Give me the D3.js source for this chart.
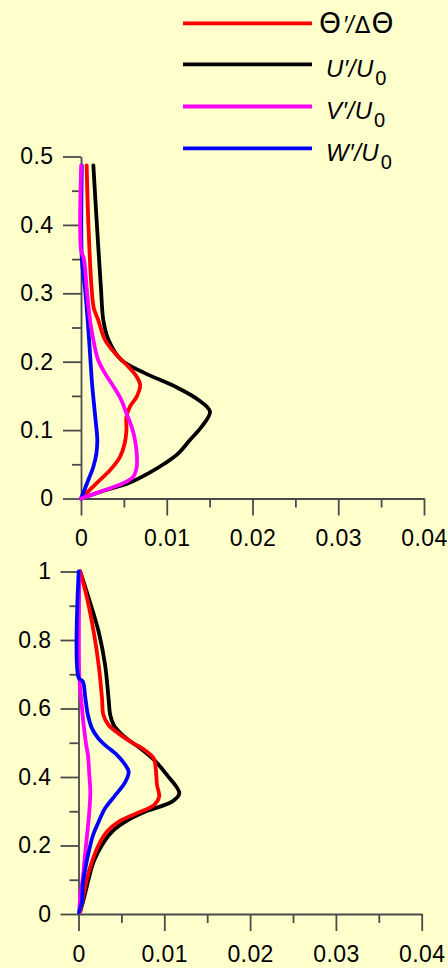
<!DOCTYPE html>
<html>
<head>
<meta charset="utf-8">
<script src="https://cdn.jsdelivr.net/npm/d3@7"></script>
<style>
  html, body { margin: 0; padding: 0; background: #ffffcc; }
  svg { display: block; }
  text { font-family: "Liberation Sans", Arial, sans-serif; }
</style>
</head>
<body>
<svg id="chart" width="448" height="968"></svg>
<script>
// Profiles: each point is [height, value]
const topTheta = [[0.487,0.00066],[0.405,0.00085],[0.307,0.00124],[0.278,0.0015],[0.261,0.0020],[0.232,0.0028],[0.212,0.0040],[0.193,0.0055],[0.178,0.0065],[0.166,0.0069],[0.149,0.0065],[0.134,0.0057],[0.1196,0.0053],[0.100,0.0053],[0.0807,0.0051],[0.061,0.00455],[0.0417,0.0034],[0.0222,0.0018],[0,0]];
const topU = [[0.487,0.00144],[0.405,0.00183],[0.307,0.00233],[0.261,0.0026],[0.232,0.0032],[0.2025,0.0047],[0.183,0.0075],[0.1635,0.011],[0.144,0.0137],[0.127,0.01504],[0.105,0.01407],[0.0855,0.0127],[0.066,0.01135],[0.0515,0.0098],[0.0368,0.00785],[0.0222,0.0055],[0.0124,0.0029],[0,0]];
const topV = [[0.487,0.00002],[0.362,0.00002],[0.352,0.0003],[0.340,0.00045],[0.307,0.00066],[0.261,0.00105],[0.232,0.00144],[0.2025,0.0020],[0.183,0.0028],[0.1635,0.0038],[0.144,0.0047],[0.1245,0.0053],[0.105,0.0059],[0.0855,0.0063],[0.066,0.0065],[0.0464,0.0065],[0.032,0.0061],[0.0222,0.0049],[0.0124,0.0028],[0,0]];
const topW = [[0.487,0.0001],[0.35,0.0001],[0.307,0.00047],[0.261,0.00078],[0.212,0.00105],[0.1635,0.00132],[0.1147,0.0017],[0.0855,0.0019],[0.066,0.0018],[0.0464,0.00144],[0.027,0.00085],[0.0124,0.0004],[0,0]];

const botTheta = [[1.0,0.0002],[0.922,0.0010],[0.824,0.00177],[0.727,0.00235],[0.63,0.00274],[0.581,0.0029],[0.552,0.0035],[0.523,0.0049],[0.498,0.0064],[0.484,0.0074],[0.4545,0.00876],[0.425,0.0090],[0.377,0.00915],[0.3425,0.0094],[0.318,0.0088],[0.294,0.0068],[0.2695,0.0047],[0.240,0.0033],[0.2015,0.00235],[0.153,0.00157],[0.104,0.0010],[0.055,0.0006],[0.007,0.0002]];
const botU = [[1.0,0.0002],[0.922,0.0012],[0.824,0.00235],[0.727,0.0031],[0.63,0.0035],[0.581,0.0037],[0.552,0.0041],[0.523,0.0051],[0.498,0.0064],[0.484,0.0072],[0.445,0.0090],[0.406,0.0103],[0.352,0.01175],[0.328,0.0109],[0.299,0.0078],[0.2695,0.00546],[0.240,0.0039],[0.2015,0.00274],[0.153,0.00177],[0.104,0.0012],[0.055,0.00072],[0.007,0.0002]];
const botV = [[1.0,0.0001],[0.69,0.0001],[0.63,0.0003],[0.552,0.0006],[0.498,0.00087],[0.464,0.0011],[0.406,0.00126],[0.357,0.00138],[0.299,0.00126],[0.2307,0.0010],[0.163,0.00072],[0.104,0.0005],[0.055,0.0002],[0.005,0.0001]];
const botW = [[1.0,0.00002],[0.69,0.00002],[0.679,0.0005],[0.63,0.0008],[0.581,0.0011],[0.542,0.00157],[0.513,0.0023],[0.493,0.0031],[0.464,0.0045],[0.435,0.00546],[0.4155,0.00585],[0.386,0.00546],[0.347,0.0043],[0.3086,0.0031],[0.2695,0.00235],[0.2307,0.0017],[0.182,0.0012],[0.133,0.0008],[0.0847,0.0005],[0.036,0.0004],[0.0175,0.0002],[0.005,0.00005]];

const xMajor = [0, 0.01, 0.02, 0.03, 0.04];
const xMinor = [0.005, 0.015, 0.025, 0.035];
const topYMajor = [0, 0.1, 0.2, 0.3, 0.4, 0.5];
const topYMinor = [0.05, 0.15, 0.25, 0.35, 0.45];
const botYMajor = [0, 0.2, 0.4, 0.6, 0.8, 1];
const botYMinor = [0.1, 0.3, 0.5, 0.7, 0.9];

const colors = { theta: "#ff0000", u: "#000000", v: "#ff00ff", w: "#0000ff" };
const axisColor = "#4a4a4a";
const tickFont = 23;

const svg = d3.select("#chart");
svg.append("rect").attr("width", 448).attr("height", 968).attr("fill", "#ffffcc");

function fmt(d) { return d === 0 ? "0" : String(d); }

function drawPanel(opts) {
  const x = d3.scaleLinear().domain([0, 0.04]).range(opts.xRange);
  const y = d3.scaleLinear().domain(opts.yDomain).range(opts.yRange);
  const g = svg.append("g");

  // minor ticks
  g.append("g").attr("transform", `translate(0,${y(0)})`)
    .call(d3.axisBottom(x).tickValues(xMinor).tickSize(9).tickFormat(""))
    .call(a => a.select(".domain").remove());
  g.append("g").attr("transform", `translate(${x(0)},0)`)
    .call(d3.axisLeft(y).tickValues(opts.yMinor).tickSize(9).tickFormat(""))
    .call(a => a.select(".domain").remove());
  // major ticks
  g.append("g").attr("transform", `translate(0,${y(0)})`)
    .call(d3.axisBottom(x).tickValues(xMajor).tickSize(17).tickSizeOuter(0).tickPadding(14.5).tickFormat(fmt));
  g.append("g").attr("transform", `translate(${x(0)},0)`)
    .call(d3.axisLeft(y).tickValues(opts.yMajor).tickSize(18).tickSizeOuter(0).tickPadding(opts.yPad).tickFormat(fmt));

  g.selectAll(".domain, .tick line").attr("stroke", axisColor).attr("stroke-width", 1.8);
  g.selectAll(".tick text").attr("fill", "#000").attr("font-size", tickFont)
    .attr("letter-spacing", 0.4)
    .attr("font-family", "'Liberation Sans', Arial, sans-serif");

  const line = d3.line()
    .x(d => x(d[1]))
    .y(d => y(d[0]))
    .curve(d3.curveCatmullRom.alpha(0.5));

  opts.series.forEach(s => {
    g.append("path").datum(s.data)
      .attr("fill", "none")
      .attr("stroke", s.color)
      .attr("stroke-width", 3.8)
      .attr("stroke-linejoin", "round")
      .attr("stroke-linecap", "round")
      .attr("d", line);
  });
}

drawPanel({
  xRange: [81, 424], yDomain: [0, 0.5], yRange: [498.5, 156.5],
  yMajor: topYMajor, yMinor: topYMinor, yPad: 9.5,
  series: [
    { data: topU, color: colors.u },
    { data: topTheta, color: colors.theta },
    { data: topW, color: colors.w },
    { data: topV, color: colors.v }
  ]
});

drawPanel({
  xRange: [78.5, 421.7], yDomain: [0, 1], yRange: [914, 571.5],
  yMajor: botYMajor, yMinor: botYMinor, yPad: 9,
  series: [
    { data: botU, color: colors.u },
    { data: botTheta, color: colors.theta },
    { data: botV, color: colors.v },
    { data: botW, color: colors.w }
  ]
});

// Legend
const legendItems = [
  { key: "theta", y: 23.3 },
  { key: "u", y: 64.3, letter: "U" },
  { key: "v", y: 106.5, letter: "V" },
  { key: "w", y: 148.3, letter: "W" }
];
const leg = svg.append("g");
legendItems.forEach(it => {
  leg.append("line")
    .attr("x1", 183).attr("x2", 312)
    .attr("y1", it.y).attr("y2", it.y)
    .attr("stroke", colors[it.key]).attr("stroke-width", 3.8);
  if (it.key === "theta") {
    const t = leg.append("text").attr("x", 319).attr("y", it.y + 9.5).attr("fill", "#000");
    t.append("tspan").attr("font-size", 28).attr("font-family", "'DejaVu Sans', sans-serif").text("Θ");
    t.append("tspan").attr("font-size", 23).attr("font-style", "italic").attr("dx", 2).text("′/");
    t.append("tspan").attr("font-size", 23).attr("font-family", "'DejaVu Sans', sans-serif").attr("dx", 1).text("Δ");
    t.append("tspan").attr("font-size", 28).attr("font-family", "'DejaVu Sans', sans-serif").attr("dx", 1).text("Θ");
  } else {
    const t = leg.append("text").attr("x", 326).attr("y", it.y + 12.5).attr("fill", "#000").attr("font-size", 24);
    t.append("tspan").attr("font-style", "italic").attr("letter-spacing", 0.5).text(it.letter + "′/U");
    t.append("tspan").attr("font-size", 20).attr("dx", 1.5).attr("dy", 8.3).text("0");
  }
});
</script>
</body>
</html>
